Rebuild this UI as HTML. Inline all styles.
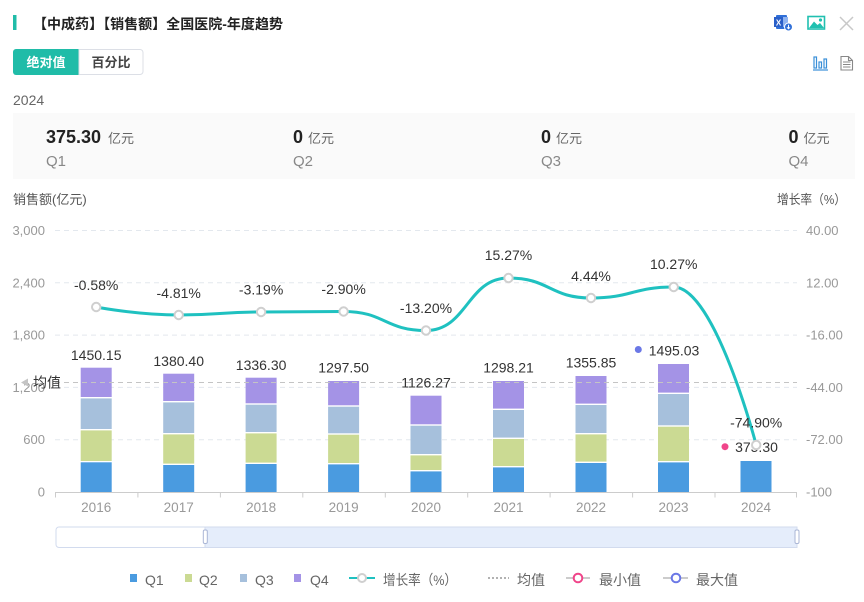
<!DOCTYPE html>
<html>
<head>
<meta charset="utf-8">
<style>
  html, body { margin: 0; padding: 0; background: #fff; }
  body { width: 864px; height: 602px; overflow: hidden; }
  svg { display: block; font-family: "Liberation Sans", "Noto Sans CJK SC", sans-serif; }
</style>
</head>
<body>
<svg width="864" height="602" viewBox="0 0 864 602" xmlns="http://www.w3.org/2000/svg">
  <!-- Header -->
  <rect x="13" y="15" width="3.5" height="15" fill="#20bca8"/>
  <text x="33" y="29" font-size="14" font-weight="bold" fill="#222" textLength="250" lengthAdjust="spacingAndGlyphs">【中成药】【销售额】全国医院-年度趋势</text>

  <!-- Excel icon -->
  <g>
    <rect x="776" y="15" width="11" height="14" fill="#2f6fd8" rx="1"/>
    <rect x="779" y="17" width="9" height="10" fill="#8fb3f0"/>
    <rect x="774" y="17" width="9" height="10" fill="#2a5fc8"/>
    <text x="778.5" y="25.5" font-size="8" font-weight="bold" fill="#fff" text-anchor="middle">X</text>
    <circle cx="788.5" cy="27" r="4" fill="#2f6fd8" stroke="#fff" stroke-width="1"/>
    <path d="M788.5 24.8 V28.6 M787 27.3 L788.5 28.8 L790 27.3" stroke="#fff" stroke-width="1" fill="none"/>
  </g>
  <!-- Image icon -->
  <g>
    <rect x="808" y="16.5" width="16.5" height="12.5" fill="none" stroke="#20c0b0" stroke-width="1.6"/>
    <path d="M809 28 L814 21.5 L817.5 25 L820 23 L824 28 Z" fill="#20c0b0"/>
    <circle cx="820.5" cy="20" r="1.6" fill="#20c0b0"/>
  </g>
  <!-- Close -->
  <path d="M840 17 L853 30 M853 17 L840 30" stroke="#c8c8c8" stroke-width="1.5"/>

  <!-- Toggle buttons -->
  <path d="M16 49 H79 V75 H16 A3 3 0 0 1 13 72 V52 A3 3 0 0 1 16 49 Z" fill="#20bca8"/>
  <text x="46" y="67" font-size="13" font-weight="bold" fill="#fff" text-anchor="middle">绝对值</text>
  <path d="M79 49.5 H140 A3 3 0 0 1 143 52.5 V71.5 A3 3 0 0 1 140 74.5 H79 Z" fill="#fff" stroke="#dcdfe6" stroke-width="1"/>
  <text x="111" y="67" font-size="13" font-weight="bold" fill="#444" text-anchor="middle">百分比</text>

  <!-- Bar/doc icons -->
  <g stroke="#3a8fd8" stroke-width="1.2" fill="none">
    <rect x="814" y="57" width="2.5" height="11"/>
    <rect x="819" y="62" width="2.5" height="6"/>
    <rect x="824" y="59" width="2.5" height="9"/>
    <path d="M813 70 H828"/>
  </g>
  <g stroke="#888" stroke-width="1.1" fill="none">
    <path d="M841 56.5 H848.5 L852.5 60.5 V70 H841 Z"/>
    <path d="M848.5 56.5 V60.5 H852.5"/>
    <path d="M843 62 H850.5 M843 64.5 H850.5 M843 67 H850.5"/>
  </g>

  <text x="13" y="105" font-size="14" fill="#666">2024</text>

  <!-- Stats panel -->
  <rect x="13" y="113" width="842" height="66" fill="#fafafa"/>
  <text x="46" y="143" font-size="18" font-weight="bold" fill="#222">375.30</text>
  <text x="108" y="143" font-size="13" fill="#666">亿元</text>
  <text x="46" y="166" font-size="15" fill="#888">Q1</text>
  <text x="293" y="143" font-size="18" font-weight="bold" fill="#222">0</text>
  <text x="308" y="143" font-size="13" fill="#666">亿元</text>
  <text x="293" y="166" font-size="15" fill="#888">Q2</text>
  <text x="541" y="143" font-size="18" font-weight="bold" fill="#222">0</text>
  <text x="556" y="143" font-size="13" fill="#666">亿元</text>
  <text x="541" y="166" font-size="15" fill="#888">Q3</text>
  <text x="788.5" y="143" font-size="18" font-weight="bold" fill="#222">0</text>
  <text x="803.5" y="143" font-size="13" fill="#666">亿元</text>
  <text x="788.5" y="166" font-size="15" fill="#888">Q4</text>

  <!-- Axis titles -->
  <text x="13" y="204" font-size="13" fill="#555">销售额(亿元)</text>
  <text x="777" y="204" font-size="13" fill="#555" textLength="69" lengthAdjust="spacingAndGlyphs">增长率（%）</text>

  <!-- Grid lines -->
  <g stroke="#e3e8ee" stroke-width="1" stroke-dasharray="5 4">
    <line x1="55" y1="230.5" x2="797" y2="230.5"/>
    <line x1="55" y1="282.8" x2="797" y2="282.8"/>
    <line x1="55" y1="335.1" x2="797" y2="335.1"/>
    <line x1="55" y1="387.4" x2="797" y2="387.4"/>
    <line x1="55" y1="439.7" x2="797" y2="439.7"/>
  </g>

  <!-- Left axis labels -->
  <g font-size="13" fill="#999" text-anchor="end">
    <text x="45" y="235">3,000</text>
    <text x="45" y="287.3">2,400</text>
    <text x="45" y="339.6">1,800</text>
    <text x="45" y="391.9">1,200</text>
    <text x="45" y="444.2">600</text>
    <text x="45" y="496.5">0</text>
  </g>
  <!-- Right axis labels -->
  <g font-size="13" fill="#999">
    <text x="806" y="235">40.00</text>
    <text x="806" y="287.3">12.00</text>
    <text x="806" y="339.6">-16.00</text>
    <text x="806" y="391.9">-44.00</text>
    <text x="806" y="444.2">-72.00</text>
    <text x="806" y="496.5">-100</text>
  </g>

  <!-- Bars -->
  <g>
    <!-- 2016 -->
    <rect x="80.7" y="462.3" width="31" height="29.7" fill="#4a9be0"/>
    <rect x="80.7" y="430.4" width="31" height="30.6" fill="#cbda93"/>
    <rect x="80.7" y="398.4" width="31" height="30.6" fill="#a6c0dc"/>
    <rect x="80.7" y="367.7" width="31" height="29.3" fill="#a493e6"/>
    <!-- 2017 -->
    <rect x="163.2" y="465" width="31" height="27" fill="#4a9be0"/>
    <rect x="163.2" y="434.4" width="31" height="29.2" fill="#cbda93"/>
    <rect x="163.2" y="402.4" width="31" height="30.6" fill="#a6c0dc"/>
    <rect x="163.2" y="373.7" width="31" height="27.3" fill="#a493e6"/>
    <!-- 2018 -->
    <rect x="245.6" y="464" width="31" height="28" fill="#4a9be0"/>
    <rect x="245.6" y="433.4" width="31" height="29.2" fill="#cbda93"/>
    <rect x="245.6" y="404.7" width="31" height="27.3" fill="#a6c0dc"/>
    <rect x="245.6" y="377.7" width="31" height="25.6" fill="#a493e6"/>
    <!-- 2019 -->
    <rect x="328.1" y="464.4" width="31" height="27.6" fill="#4a9be0"/>
    <rect x="328.1" y="434.7" width="31" height="28.3" fill="#cbda93"/>
    <rect x="328.1" y="406.7" width="31" height="26.6" fill="#a6c0dc"/>
    <rect x="328.1" y="381" width="31" height="24.3" fill="#a493e6"/>
    <!-- 2020 -->
    <rect x="410.5" y="471.4" width="31" height="20.6" fill="#4a9be0"/>
    <rect x="410.5" y="455.4" width="31" height="14.6" fill="#cbda93"/>
    <rect x="410.5" y="425.7" width="31" height="28.3" fill="#a6c0dc"/>
    <rect x="410.5" y="395.7" width="31" height="28.6" fill="#a493e6"/>
    <!-- 2021 -->
    <rect x="493" y="467.4" width="31" height="24.6" fill="#4a9be0"/>
    <rect x="493" y="439" width="31" height="27" fill="#cbda93"/>
    <rect x="493" y="410" width="31" height="27.6" fill="#a6c0dc"/>
    <rect x="493" y="381" width="31" height="27.6" fill="#a493e6"/>
    <!-- 2022 -->
    <rect x="575.5" y="463" width="31" height="29" fill="#4a9be0"/>
    <rect x="575.5" y="434.4" width="31" height="27.2" fill="#cbda93"/>
    <rect x="575.5" y="405" width="31" height="28" fill="#a6c0dc"/>
    <rect x="575.5" y="376" width="31" height="27.6" fill="#a493e6"/>
    <!-- 2023 -->
    <rect x="658" y="462.4" width="31" height="29.6" fill="#4a9be0"/>
    <rect x="658" y="426.7" width="31" height="34.3" fill="#cbda93"/>
    <rect x="658" y="394" width="31" height="31.3" fill="#a6c0dc"/>
    <rect x="658" y="364" width="31" height="28.6" fill="#a493e6"/>
    <!-- 2024 -->
    <rect x="740.5" y="461" width="31" height="31" fill="#4a9be0"/>
  </g>

  <!-- Average line -->
  <line x1="55" y1="382.5" x2="797" y2="382.5" stroke="#c4c4c4" stroke-width="1" stroke-dasharray="5 4"/>
  <path d="M21 382.5 L28 378.5 L28 386.5 Z" fill="#c4c4c4"/>
  <text x="33" y="387.5" font-size="14" fill="#333">均值</text>

  <!-- X axis -->
  <line x1="55" y1="492.5" x2="797" y2="492.5" stroke="#ccc" stroke-width="1"/>
  <g stroke="#ccc" stroke-width="1">
    <line x1="55.5" y1="492.5" x2="55.5" y2="497.5"/>
    <line x1="137.9" y1="492.5" x2="137.9" y2="497.5"/>
    <line x1="220.4" y1="492.5" x2="220.4" y2="497.5"/>
    <line x1="302.8" y1="492.5" x2="302.8" y2="497.5"/>
    <line x1="385.3" y1="492.5" x2="385.3" y2="497.5"/>
    <line x1="467.7" y1="492.5" x2="467.7" y2="497.5"/>
    <line x1="550.1" y1="492.5" x2="550.1" y2="497.5"/>
    <line x1="632.6" y1="492.5" x2="632.6" y2="497.5"/>
    <line x1="715" y1="492.5" x2="715" y2="497.5"/>
    <line x1="796.5" y1="492.5" x2="796.5" y2="497.5"/>
  </g>
  <g font-size="13.5" fill="#999" text-anchor="middle">
    <text x="96.2" y="512">2016</text>
    <text x="178.7" y="512">2017</text>
    <text x="261.1" y="512">2018</text>
    <text x="343.6" y="512">2019</text>
    <text x="426" y="512">2020</text>
    <text x="508.5" y="512">2021</text>
    <text x="591" y="512">2022</text>
    <text x="673.5" y="512">2023</text>
    <text x="756" y="512">2024</text>
  </g>

  <!-- Bar value labels -->
  <g font-size="14" fill="#333" text-anchor="middle">
    <text x="96.2" y="360">1450.15</text>
    <text x="178.7" y="366">1380.40</text>
    <text x="261.1" y="370">1336.30</text>
    <text x="343.6" y="372.5">1297.50</text>
    <text x="426" y="387.5">1126.27</text>
    <text x="508.5" y="372.5">1298.21</text>
    <text x="591" y="367.5">1355.85</text>
    <text x="674" y="355.5">1495.03</text>
    <text x="756.5" y="452">375.30</text>
  </g>
  <circle cx="638.3" cy="349.5" r="3.5" fill="#6b78e6"/>
  <circle cx="725" cy="446.7" r="3.5" fill="#f0458a"/>

  <!-- Growth line (monotone-x smoothing) -->
  <path d="M96.2,307 C96.2,307 137.5,315 178.7,315 C219.9,315 219.9,312 261.1,312 C302.3,312 302.4,311.5 343.6,311.5 C384.8,311.5 384.8,330.5 426,330.5 C467.2,330.5 467.3,278 508.5,278 C549.7,278 549.8,298 591,298 C632.2,298 632.5,287 673.7,287 C714.9,287 756.2,445 756.2,445" fill="none" stroke="#1fc1c0" stroke-width="3"/>
  <g fill="#fff" stroke="#cfcfcf" stroke-width="2">
    <circle cx="96.2" cy="307" r="4.2"/>
    <circle cx="178.7" cy="315" r="4.2"/>
    <circle cx="261.1" cy="312" r="4.2"/>
    <circle cx="343.6" cy="311.5" r="4.2"/>
    <circle cx="426" cy="330.5" r="4.2"/>
    <circle cx="508.5" cy="278" r="4.2"/>
    <circle cx="591" cy="298" r="4.2"/>
    <circle cx="673.7" cy="287" r="4.2"/>
    <circle cx="756.2" cy="445" r="4.2"/>
  </g>
  <g font-size="14" fill="#333" text-anchor="middle">
    <text x="96.2" y="290">-0.58%</text>
    <text x="178.7" y="298">-4.81%</text>
    <text x="261.1" y="294.5">-3.19%</text>
    <text x="343.6" y="294">-2.90%</text>
    <text x="426" y="313">-13.20%</text>
    <text x="508.5" y="260">15.27%</text>
    <text x="591" y="281">4.44%</text>
    <text x="673.7" y="269">10.27%</text>
    <text x="756.2" y="427.5">-74.90%</text>
  </g>

  <!-- DataZoom -->
  <rect x="56" y="527" width="741" height="20.5" rx="3" fill="#fff" stroke="#d2dbee" stroke-width="1"/>
  <rect x="205" y="527" width="592" height="20.5" fill="#e5edfb" stroke="#d2dbee" stroke-width="1"/>
  <rect x="203.3" y="530" width="4" height="13.5" rx="1.5" fill="#fff" stroke="#aab6d6" stroke-width="1"/>
  <rect x="795" y="530" width="4" height="13.5" rx="1.5" fill="#fff" stroke="#aab6d6" stroke-width="1"/>

  <!-- Legend -->
  <rect x="130" y="574" width="7" height="8" fill="#4a9be0"/>
  <text x="145" y="585" font-size="14" fill="#666">Q1</text>
  <rect x="185" y="574" width="7" height="8" fill="#cbda93"/>
  <text x="199" y="585" font-size="14" fill="#666">Q2</text>
  <rect x="240" y="574" width="7" height="8" fill="#a6c0dc"/>
  <text x="255" y="585" font-size="14" fill="#666">Q3</text>
  <rect x="294" y="574" width="7" height="8" fill="#a493e6"/>
  <text x="310" y="585" font-size="14" fill="#666">Q4</text>

  <line x1="349" y1="578" x2="375" y2="578" stroke="#1fc1c0" stroke-width="2"/>
  <circle cx="362" cy="578" r="4" fill="#fff" stroke="#cfcfcf" stroke-width="2"/>
  <text x="383" y="585" font-size="14" fill="#666" textLength="74" lengthAdjust="spacingAndGlyphs">增长率（%）</text>

  <line x1="488" y1="578" x2="509" y2="578" stroke="#999" stroke-width="1.5" stroke-dasharray="2 2"/>
  <text x="517" y="585" font-size="14" fill="#666">均值</text>

  <line x1="566" y1="578" x2="590" y2="578" stroke="#ccc" stroke-width="2"/>
  <circle cx="578" cy="578" r="4.3" fill="#fff" stroke="#f0458a" stroke-width="2"/>
  <text x="599" y="585" font-size="14" fill="#666">最小值</text>

  <line x1="663" y1="578" x2="688" y2="578" stroke="#ccc" stroke-width="2"/>
  <circle cx="676" cy="578" r="4.3" fill="#fff" stroke="#6b78e6" stroke-width="2"/>
  <text x="696" y="585" font-size="14" fill="#666">最大值</text>
</svg>
</body>
</html>
